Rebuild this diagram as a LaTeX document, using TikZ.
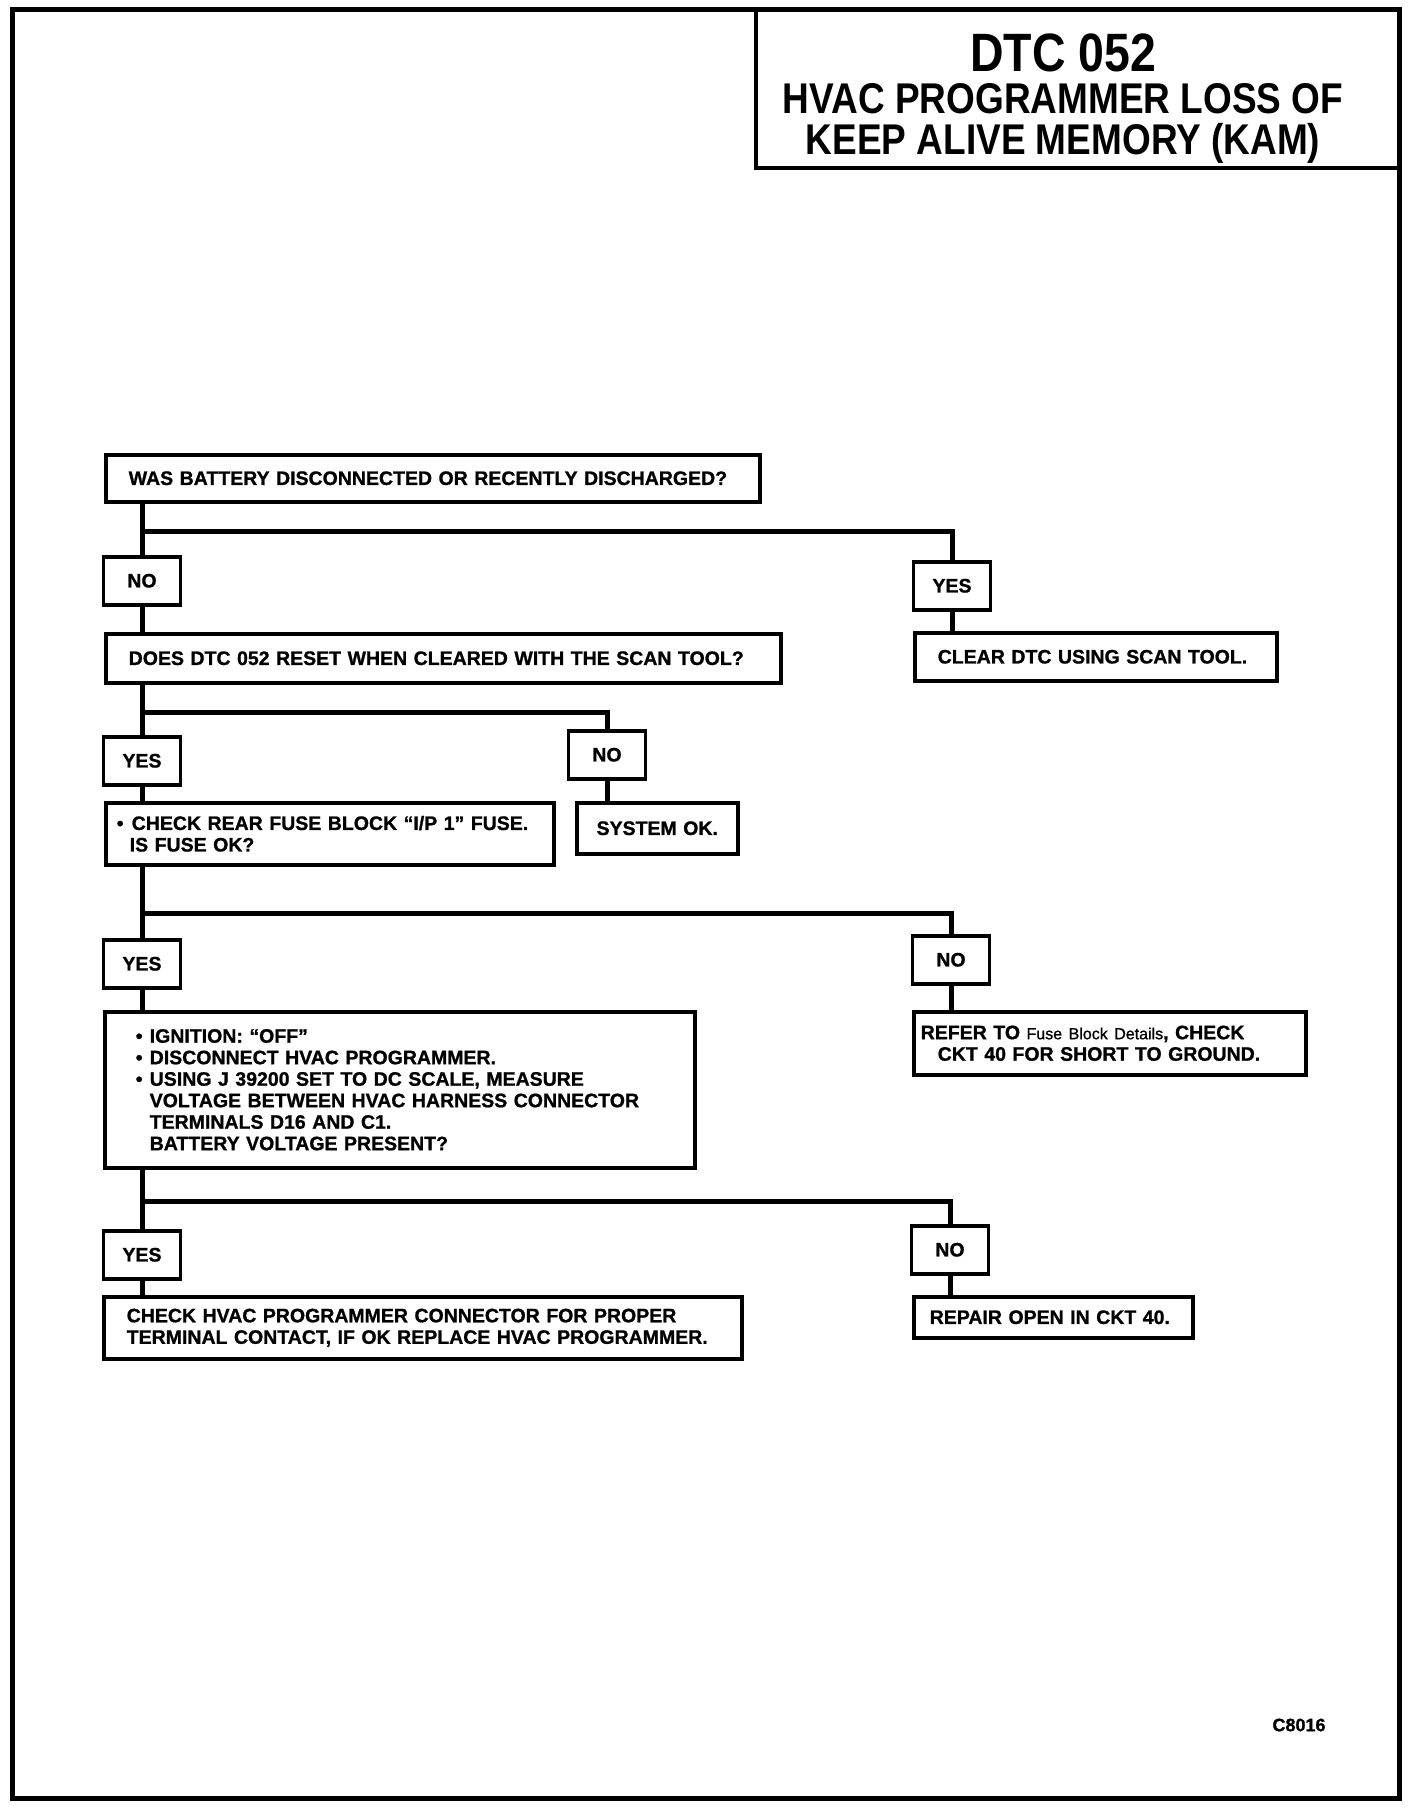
\documentclass[tikz,border=0pt]{standalone}
\usepackage{fontspec}
\setmainfont{Liberation Sans}
\newfontfamily\titlefont[FakeStretch=0.86]{Liberation Sans}
\newfontfamily\boxfont[FakeBold=1]{Liberation Sans}
\usetikzlibrary{positioning}

\begin{document}
\begin{tikzpicture}[x=1pt,y=-1pt,
        box/.style={draw, line width=3.5pt, anchor=north west, inner ysep=0pt, align=left,
            font=\boxfont\fontsize{19.5}{21.5}\selectfont\bfseries},
        answer/.style={draw, line width=3.5pt, anchor=north, minimum width=77pt, minimum height=48pt,
            inner sep=0pt, font=\boxfont\fontsize{19.5}{21.5}\selectfont\bfseries},
        heading/.style={anchor=base, inner sep=0pt, font=\titlefont\bfseries\fontsize{43}{43}\selectfont},
        wire/.style={line width=5pt}]
        \useasboundingbox (0,0) rectangle (1424,1810);

        % Frame and title panel
        \draw[line width=5pt] (12,9) rectangle (1399,1798);
        \draw[line width=3.5pt] (756,9) rectangle (1399,168);
        \node[heading, font=\titlefont\bfseries\fontsize{54}{54}\selectfont] (dtc) at (1063,71) {DTC 052};
        \node[heading] (title) at (1063,113) {HVAC PROGRAMMER LOSS OF};
        \node[heading] (kam) at (1063,154) {KEEP ALIVE MEMORY (KAM)};

        % Define boxes
        \node[box, text width=608pt, inner xsep=23pt, minimum height=47pt] (battery) at (104,453)
            {WAS BATTERY DISCONNECTED OR RECENTLY DISCHARGED?};
        \node[answer] (no1) at (142,555) {NO};
        \node[answer] (yes1) at (952,560) {YES};
        \node[box, text width=629pt, inner xsep=23pt, minimum height=49pt] (reset) at (104,632)
            {DOES DTC 052 RESET WHEN CLEARED WITH THE SCAN TOOL?};
        \node[box, text width=316pt, inner xsep=23pt, minimum height=48pt] (clear) at (913,631)
            {CLEAR DTC USING SCAN TOOL.};
        \node[answer] (yes2) at (142,735) {YES};
        \node[answer] (no2) at (607,729) {NO};
        \node[box, text width=426pt, inner xsep=11pt, minimum height=62pt] (fuse) at (104,801)
            {\makebox[15pt][l]{\textbullet}CHECK REAR FUSE BLOCK “I/P 1” FUSE.\\
             \hspace*{13pt}IS FUSE OK?};
        \node[box, text width=131pt, inner xsep=15pt, minimum height=51pt, align=center] (sysok) at (575,801)
            {SYSTEM OK.};
        \node[answer] (yes3) at (142,938) {YES};
        \node[answer] (no3) at (951,934) {NO};
        \node[box, text width=528pt, inner xsep=31pt, minimum height=156pt] (measure) at (103,1010)
            {\makebox[14pt][l]{\textbullet}IGNITION: “OFF”\\
             \makebox[14pt][l]{\textbullet}DISCONNECT HVAC PROGRAMMER.\\
             \makebox[14pt][l]{\textbullet}USING J 39200 SET TO DC SCALE, MEASURE\\
             \hspace*{14pt}VOLTAGE BETWEEN HVAC HARNESS CONNECTOR\\
             \hspace*{14pt}TERMINALS D16 AND C1.\\
             \hspace*{14pt}BATTERY VOLTAGE PRESENT?};
        \node[box, text width=378pt, inner xsep=7pt, minimum height=63pt] (refer) at (912,1010)
            {REFER TO {\mdseries\fontsize{16}{21.5}\selectfont Fuse Block Details}, CHECK\\
             \hspace*{17pt}CKT 40 FOR SHORT TO GROUND.};
        \node[answer] (yes4) at (142,1229) {YES};
        \node[answer] (no4) at (950,1224) {NO};
        \node[box, text width=592pt, inner xsep=23pt, minimum height=62pt] (replace) at (102,1295)
            {CHECK HVAC PROGRAMMER CONNECTOR FOR PROPER\\
             TERMINAL CONTACT, IF OK REPLACE HVAC PROGRAMMER.};
        \node[box, text width=247pt, inner xsep=16pt, minimum height=41pt] (repair) at (912,1295)
            {REPAIR OPEN IN CKT 40.};
        \node[font=\boxfont\fontsize{18}{18}\selectfont\bfseries] (code) at (1299,1725) {C8016};

        % Define forks
        \coordinate (fork1) at (142,531);
        \coordinate (fork2) at (142,712);
        \coordinate (fork3) at (142,913);
        \coordinate (fork4) at (142,1201);

        % Draw connectors
        \draw[wire] (battery.south -| no1) -- (no1.north);
        \draw[wire] (no1.south) -- (reset.north -| no1);
        \draw[wire] (fork1) -| (yes1.north);
        \draw[wire] (yes1.south) -- (clear.north -| yes1);

        \draw[wire] (reset.south -| yes2) -- (yes2.north);
        \draw[wire] (yes2.south) -- (fuse.north -| yes2);
        \draw[wire] (fork2) -| (no2.north);
        \draw[wire] (no2.south) -- (sysok.north -| no2);

        \draw[wire] (fuse.south -| yes3) -- (yes3.north);
        \draw[wire] (yes3.south) -- (measure.north -| yes3);
        \draw[wire] (fork3) -| (no3.north);
        \draw[wire] (no3.south) -- (refer.north -| no3);

        \draw[wire] (measure.south -| yes4) -- (yes4.north);
        \draw[wire] (yes4.south) -- (replace.north -| yes4);
        \draw[wire] (fork4) -| (no4.north);
        \draw[wire] (no4.south) -- (repair.north -| no4);
    \end{tikzpicture}
\end{document}
